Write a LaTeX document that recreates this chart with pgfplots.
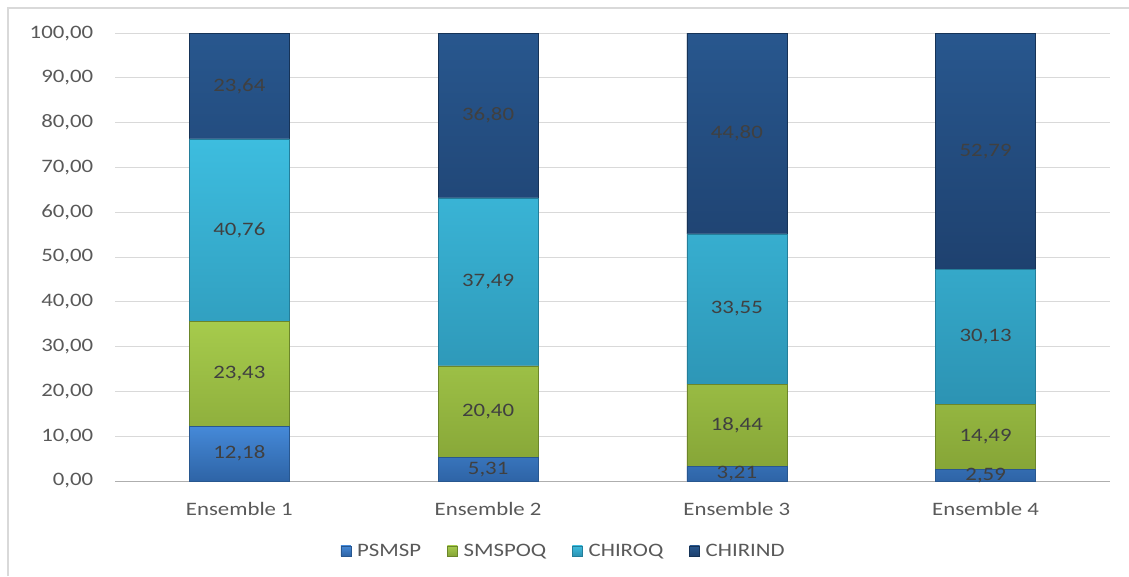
\documentclass[border=0pt]{standalone}
\usepackage{pgfplots}
\pgfplotsset{compat=1.18}
\usepackage{fontspec}
\setmainfont{Carlito}[FakeStretch=1.2]

\definecolor{psmspT}{HTML}{4589D8}
\definecolor{psmspB}{HTML}{2E64A6}
\definecolor{psmspE}{HTML}{28578F}
\definecolor{smspoqT}{HTML}{A6CB4C}
\definecolor{smspoqB}{HTML}{86A537}
\definecolor{smspoqE}{HTML}{6B862A}
\definecolor{chiroqT}{HTML}{3DBDDF}
\definecolor{chiroqB}{HTML}{2C93B3}
\definecolor{chiroqE}{HTML}{247E9A}
\definecolor{chirindT}{HTML}{28578E}
\definecolor{chirindB}{HTML}{1E416F}
\definecolor{chirindE}{HTML}{163357}
\definecolor{labgray}{HTML}{404040}
\definecolor{tickgray}{HTML}{595959}
\definecolor{gridgray}{HTML}{D9D9D9}
\definecolor{framegray}{HTML}{D9D9D9}

\newcommand{\chfont}{\fontsize{19}{22}\selectfont}

\begin{document}
\begin{tikzpicture}
\useasboundingbox (0pt,0pt) rectangle (1129pt,576pt);
\draw[framegray, line width=1.2pt] (8pt,0pt) -- (8pt,568pt) -- (1129pt,568pt);
\begin{axis}[
    at={(115pt,95pt)}, anchor=south west,
    scale only axis,
    width=995pt, height=448pt,
    ybar stacked,
    bar width=100pt,
    xmin=-0.5, xmax=3.5,
    ymin=0, ymax=100.02,
    xtick={0,1,2,3},
    xticklabels={Ensemble 1,Ensemble 2,Ensemble 3,Ensemble 4},
    minor xtick={-0.5,0.5,1.5,2.5,3.5},
    xtick style={draw=none},
    minor x tick style={gridgray!80!black, line width=1pt},
    minor tick length=6pt,
    tick align=outside,
    ytick={0,10,...,100},
    ytick style={draw=none},
    ymajorgrids,
    major grid style={gridgray, line width=1pt},
    axis x line*=bottom,
    axis y line*=left,
    x axis line style={gridgray!80!black, line width=1pt, -},
    y axis line style={draw=none},
    tick label style={font=\chfont, text=tickgray},
    /pgf/number format/assume math mode=true,
    yticklabel style={xshift=-14pt, /pgf/number format/fixed, /pgf/number format/fixed zerofill, /pgf/number format/precision=2, /pgf/number format/use comma, /pgf/number format/1000 sep={}},
    xticklabel style={yshift=-14pt},
    point meta=rawy,
    nodes near coords={\pgfmathprintnumber[fixed,fixed zerofill,precision=2,use comma]{\pgfplotspointmeta}},
    every node near coord/.append style={anchor=center, font=\chfont, text=labgray},
    legend columns=4,
    legend style={draw=none, fill=none, at={(0.451,-0.156)}, anchor=center, font=\chfont, text=tickgray,
        /tikz/every even column/.append style={column sep=24pt}},
    legend image code/.code={\fill[#1] (0pt,-5pt) rectangle (10pt,5pt); \path (14pt,0pt);},
]
\addplot+[draw=psmspE, top color=psmspT, bottom color=psmspB] coordinates {(0,12.18) (1,5.31) (2,3.21) (3,2.59)};
\addlegendentry{PSMSP}
\addplot+[draw=smspoqE, top color=smspoqT, bottom color=smspoqB] coordinates {(0,23.43) (1,20.40) (2,18.44) (3,14.49)};
\addlegendentry{SMSPOQ}
\addplot+[draw=chiroqE, top color=chiroqT, bottom color=chiroqB] coordinates {(0,40.76) (1,37.49) (2,33.55) (3,30.13)};
\addlegendentry{CHIROQ}
\addplot+[draw=chirindE, top color=chirindT, bottom color=chirindB] coordinates {(0,23.64) (1,36.80) (2,44.80) (3,52.79)};
\addlegendentry{CHIRIND}
\end{axis}
\end{tikzpicture}
\end{document}
